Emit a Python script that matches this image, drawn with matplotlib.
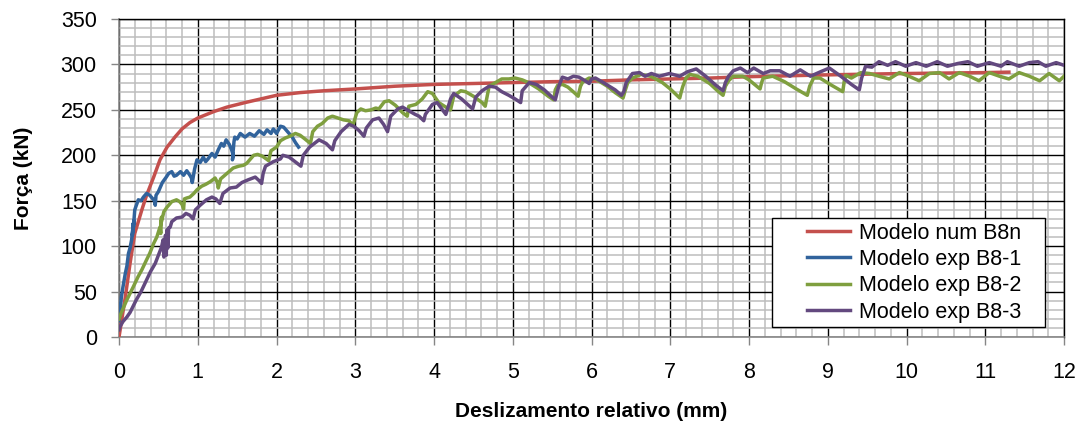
import matplotlib
matplotlib.use("Agg")
import matplotlib.pyplot as plt
from matplotlib.ticker import MultipleLocator
from matplotlib.patches import Rectangle

plt.rcParams['font.family'] = ['Liberation Sans', 'DejaVu Sans']

# Modelo num B8n
red_x = [0, 0.04, 0.08, 0.14, 0.20, 0.29, 0.35, 0.44, 0.52, 0.61, 0.71, 0.80, 0.90, 1.0,
         1.2, 1.37, 1.6, 1.8, 2.0, 2.3, 2.6, 3.0, 3.5, 4.0, 4.5, 5.0, 5.5, 6.0, 6.5, 7.0,
         7.5, 8.0, 8.5, 9.0, 9.5, 10.0, 10.5, 11.0, 11.3]
red_y = [0, 22, 44, 81, 114, 140, 156, 176, 195, 209, 220, 229, 236, 241,
         248, 253, 258, 262, 266, 269, 271, 273, 276, 278, 279, 280, 281, 281.5, 283, 284,
         285, 286.5, 287.5, 288.5, 289.3, 290, 290.5, 291, 291.5]

# Modelo exp B8-1
b1_x = [0.0, 0.01, 0.02, 0.03, 0.05, 0.08, 0.10, 0.12, 0.14, 0.16, 0.17, 0.18, 0.17, 0.19,
        0.18, 0.20, 0.22, 0.245, 0.28, 0.31, 0.35, 0.39, 0.42, 0.45, 0.46, 0.47, 0.50, 0.55,
        0.60, 0.63, 0.67, 0.70, 0.73, 0.78, 0.82, 0.86, 0.90, 0.92, 0.93, 0.96, 0.99, 1.03,
        1.07, 1.10, 1.13, 1.18, 1.22, 1.26, 1.30, 1.33, 1.36, 1.40, 1.43, 1.45, 1.44, 1.46,
        1.47, 1.50, 1.54, 1.60, 1.66, 1.72, 1.78, 1.84, 1.88, 1.93, 1.96, 2.00, 2.05, 2.09,
        2.14, 2.20, 2.24, 2.28]
b1_y = [18, 25, 35, 44, 55, 70, 78, 92, 98, 107, 115, 125, 112, 128,
        118, 140, 145, 151, 150, 154, 158, 156, 153, 150, 145, 156, 160, 170,
        176, 180, 182, 177, 178, 182, 178, 183, 178, 175, 170, 185, 195, 192,
        198, 193, 196, 202, 198, 206, 213, 210, 217, 212, 206, 200, 195, 215,
        220, 218, 224, 220, 224, 221, 227, 223, 228, 224, 229, 224, 232, 231,
        226, 220, 214, 209]

# Modelo exp B8-2
b2_x = [0.0, 0.03, 0.10, 0.18, 0.24, 0.29, 0.35, 0.39, 0.44, 0.48, 0.52, 0.53, 0.54, 0.53,
        0.57, 0.61, 0.67, 0.73, 0.77, 0.80, 0.82, 0.83, 0.86, 0.90, 0.95, 0.99, 1.05, 1.10,
        1.16, 1.22, 1.25, 1.26, 1.29, 1.37, 1.45, 1.52, 1.58, 1.62, 1.71, 1.76, 1.82, 1.87,
        1.90, 1.93, 2.00, 2.05, 2.11, 2.17, 2.24, 2.30, 2.36, 2.43, 2.46, 2.52, 2.58, 2.65,
        2.71, 2.78, 2.85, 2.92, 2.97, 3.02, 3.07, 3.13, 3.20, 3.26, 3.30, 3.37, 3.43, 3.51,
        3.60, 3.66, 3.68, 3.77, 3.85, 3.92, 3.98, 4.06, 4.15, 4.21, 4.25, 4.34, 4.40, 4.50,
        4.61, 4.65, 4.70, 4.78, 4.86, 4.95, 5.03, 5.12, 5.20, 5.33, 5.45, 5.52, 5.54, 5.57,
        5.63, 5.70, 5.78, 5.83, 5.86, 5.89, 5.97, 6.05, 6.20, 6.30, 6.40, 6.43, 6.46, 6.52,
        6.63, 6.75, 6.90, 7.00, 7.12, 7.14, 7.16, 7.20, 7.25, 7.35, 7.50, 7.60, 7.67, 7.70,
        7.74, 7.80, 7.92, 8.00, 8.14, 8.16, 8.18, 8.30, 8.45, 8.60, 8.74, 8.77, 8.82, 8.90,
        9.05, 9.19, 9.21, 9.23, 9.30, 9.36, 9.42, 9.53, 9.65, 9.78, 9.91, 10.03, 10.16, 10.29,
        10.42, 10.54, 10.67, 10.80, 10.92, 11.05, 11.18, 11.30, 11.43, 11.56, 11.69, 11.81,
        11.94, 12.0]
b2_y = [20, 27, 41, 55, 66, 74, 85, 92, 103, 110, 121, 114, 132, 124,
        138, 143, 149, 151, 149, 146, 141, 152, 153, 154, 158, 162, 166, 168,
        171, 175, 170, 164, 174, 180, 186, 188, 189, 191, 200, 201, 199, 196,
        194, 205, 209, 216, 219, 221, 224, 222, 218, 213, 226, 232, 235, 241,
        243, 241, 239, 238, 233, 247, 251, 249, 250, 252, 251, 259, 260, 255,
        247, 243, 254, 256, 262, 270, 268, 258, 253, 250, 265, 271, 270, 265,
        258, 254, 276, 280, 284, 284, 285, 283, 280, 273, 265, 261, 272, 277,
        278, 275, 269, 265, 276, 281, 285, 284, 276, 269, 263, 272, 280, 285,
        289, 287, 280, 273, 263, 270, 276, 285, 289, 287, 279, 271, 266, 276,
        282, 287, 287, 283, 273, 280, 285, 287, 281, 273, 266, 276, 285, 285,
        277, 270, 282, 288, 285, 288, 291, 290, 287, 284, 291, 287, 282, 290,
        291, 284, 291, 287, 282, 291, 287, 284, 291, 287, 282, 290,
        282, 287]

# Modelo exp B8-3
b3_x = [0.0, 0.01, 0.05, 0.10, 0.14, 0.22, 0.28, 0.35, 0.40, 0.46, 0.50, 0.54, 0.56, 0.57,
        0.59, 0.60, 0.61, 0.62, 0.63, 0.65, 0.67, 0.73, 0.80, 0.85, 0.90, 0.94, 0.97, 1.03,
        1.11, 1.18, 1.23, 1.28, 1.32, 1.41, 1.49, 1.56, 1.64, 1.73, 1.78, 1.81, 1.83, 1.86,
        1.96, 2.05, 2.08, 2.16, 2.25, 2.31, 2.34, 2.42, 2.54, 2.63, 2.71, 2.74, 2.82, 2.92,
        2.98, 3.05, 3.11, 3.14, 3.22, 3.30, 3.36, 3.41, 3.45, 3.54, 3.60, 3.68, 3.76, 3.81,
        3.87, 3.89, 3.98, 4.04, 4.10, 4.15, 4.21, 4.25, 4.35, 4.44, 4.49, 4.53, 4.61, 4.70,
        4.78, 4.86, 4.95, 5.03, 5.10, 5.12, 5.14, 5.21, 5.30, 5.40, 5.50, 5.54, 5.58, 5.63,
        5.70, 5.77, 5.84, 5.92, 5.97, 6.00, 6.05, 6.15, 6.30, 6.38, 6.41, 6.44, 6.52, 6.61,
        6.68, 6.76, 6.86, 6.99, 7.12, 7.22, 7.33, 7.45, 7.58, 7.67, 7.70, 7.74, 7.80, 7.89,
        7.98, 8.06, 8.18, 8.27, 8.39, 8.52, 8.65, 8.78, 8.91, 9.02, 9.15, 9.30, 9.40, 9.43,
        9.48, 9.56, 9.65, 9.76, 9.86, 9.99, 10.12, 10.25, 10.39, 10.52, 10.65, 10.78, 10.90,
        11.05, 11.20, 11.28, 11.43, 11.56, 11.67, 11.77, 11.90, 12.0]
b3_y = [8, 11, 17, 22, 27, 41, 50, 63, 72, 81, 90, 99, 107, 88,
        112, 90, 118, 98, 120, 121, 127, 131, 132, 136, 134, 130, 140, 145,
        151, 154, 152, 147, 158, 164, 165, 170, 173, 176, 172, 169, 180, 188,
        193, 196, 200, 198, 192, 188, 200, 209, 217, 213, 206, 216, 226, 234,
        232, 227, 221, 230, 239, 241, 234, 226, 243, 251, 253, 249, 245, 243,
        238, 245, 256, 258, 251, 245, 262, 268, 262, 255, 251, 264, 271, 276,
        275, 270, 266, 262, 258, 271, 273, 280, 278, 272, 264, 261, 275, 286,
        284, 287, 286, 282, 279, 284, 285, 280, 272, 266, 270, 280, 290, 291,
        287, 290, 287, 290, 287, 292, 295, 287, 277, 271, 280, 287, 293, 296,
        291, 296, 290, 293, 293, 287, 294, 287, 292, 296, 288, 278, 272, 285,
        298, 297, 303, 299, 303, 298, 302, 298, 303, 298, 301, 303, 298,
        302, 298, 303, 298, 302, 303, 298, 302, 299]

labels = ["Modelo num B8n", "Modelo exp B8-1", "Modelo exp B8-2", "Modelo exp B8-3"]
colors = ["#c4504d", "#31639c", "#7f9f3f", "#63497f"]

fig = plt.figure(figsize=(10.81, 4.21), dpi=100)
ax = fig.add_axes([0.1101, 0.1995, 0.8742, 0.7554])

series = [(red_x, red_y), (b1_x, b1_y), (b2_x, b2_y), (b3_x, b3_y)]
for (xs, ys), lab, c in zip(series, labels, colors):
    ax.plot(xs, ys, color=c, lw=2.5, label=lab, solid_joinstyle="round", zorder=3)

ax.set_xlim(0, 12)
ax.set_ylim(0, 350)
ax.xaxis.set_major_locator(MultipleLocator(1))
ax.xaxis.set_minor_locator(MultipleLocator(0.2))
ax.yaxis.set_major_locator(MultipleLocator(50))
ax.yaxis.set_minor_locator(MultipleLocator(10))

ax.grid(which="minor", color="#bdbdbd", lw=1.1, zorder=0)
ax.grid(which="major", color="black", lw=1.0, zorder=1)
ax.set_axisbelow(True)

ax.tick_params(which="major", direction="out", length=6, width=1, color="#868686",
               labelsize=15.5, labelcolor="black")
ax.tick_params(axis="x", pad=12)
ax.tick_params(axis="y", pad=10)
ax.tick_params(which="minor", length=0)

for s in ("left", "bottom"):
    ax.spines[s].set_color("#868686")
    ax.spines[s].set_linewidth(1.2)
for s in ("top", "right"):
    ax.spines[s].set_color("black")
    ax.spines[s].set_linewidth(1.0)

ax.set_xlabel("Deslizamento relativo (mm)", fontsize=15, fontweight="bold", labelpad=14)
ax.set_ylabel("Força (kN)", fontsize=15, fontweight="bold", labelpad=20)

# legend box drawn separately so it can be wider than its content, like Excel
ax.add_patch(Rectangle((0.691, 0.031), 0.289, 0.343, transform=ax.transAxes,
                       facecolor="white", edgecolor="black", lw=1.0, zorder=4))
leg = ax.legend(loc="center left", bbox_to_anchor=(0.728, 0.2025), borderaxespad=0,
                fontsize=15.5, frameon=False, handlelength=2.0, handletextpad=0.4,
                labelspacing=0.25, borderpad=0)
leg.set_zorder(5)

fig.savefig("out.png", dpi=100, facecolor="white")
